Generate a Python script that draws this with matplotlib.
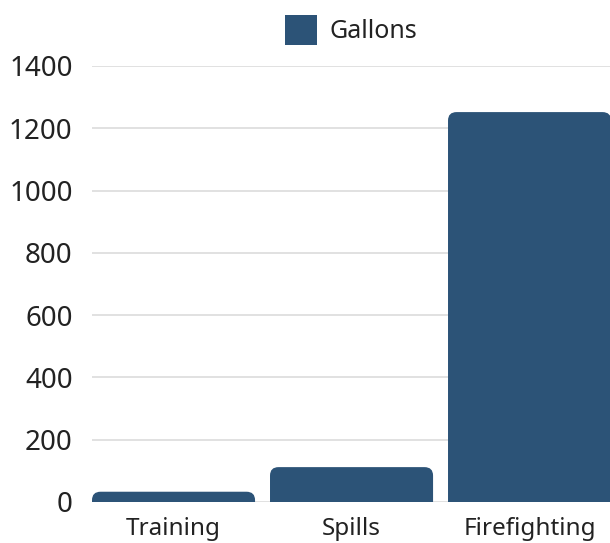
import matplotlib.pyplot as plt
from matplotlib.patches import FancyBboxPatch, Patch

categories = ["Training", "Spills", "Firefighting"]
gallons = [33, 112, 1252]
yticks = [0, 200, 400, 600, 800, 1000, 1200, 1400]
series_name = "Gallons"

bar_color = "#2c5377"
text_color = "#222222"
plt.rcParams["font.family"] = ["Noto Sans", "DejaVu Sans"]

fig = plt.figure(figsize=(6.1, 5.43), dpi=100)
ax = fig.add_axes([92/610, 1 - 502/543, 1 - 92/610, 436/543])

bars = ax.bar(range(len(categories)), gallons, width=0.916, color=bar_color)

ax.set_xlim(-0.458, 2.452)
ax.set_ylim(0, 1400)

# swap the square bars for ones with rounded tops (bottom sits below the axis and gets clipped)
rx = 0.048
ry = 27
for b in bars:
    x, w, h = b.get_x(), b.get_width(), b.get_height()
    b.set_visible(False)
    p = FancyBboxPatch((x, -60), w, h + 60,
                       boxstyle=f"round,pad=0,rounding_size={rx}",
                       mutation_aspect=ry / rx,
                       facecolor=bar_color, edgecolor="none", zorder=3)
    ax.add_patch(p)

ax.set_yticks(yticks)
ax.set_xticks(range(len(categories)))
ax.set_xticklabels(categories)
ax.grid(axis="y", color="#dcdcdc", linewidth=1.2, zorder=0)
ax.set_axisbelow(True)
for s in ax.spines.values():
    s.set_visible(False)
ax.tick_params(axis="both", length=0, colors=text_color)
ax.tick_params(axis="y", pad=14, labelsize=20)
ax.tick_params(axis="x", pad=11, labelsize=17.5)

handle = Patch(facecolor=bar_color, edgecolor="none", label=series_name)
leg = ax.legend(handles=[handle], loc="center", bbox_to_anchor=(0.5, (502 - 30) / 436), frameon=False,
                fontsize=18, handlelength=1.28, handleheight=1.5, handletextpad=0.5,
                borderaxespad=0)
for t in leg.get_texts():
    t.set_color(text_color)

fig.savefig("out.png", dpi=100)
